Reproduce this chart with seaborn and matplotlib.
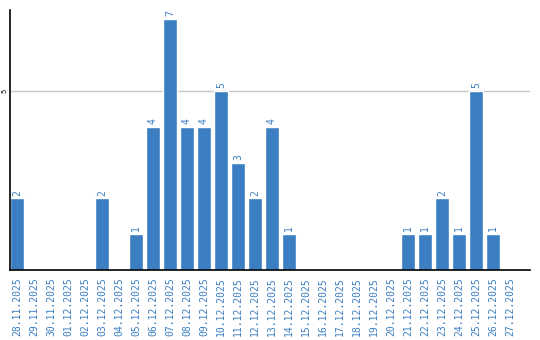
import matplotlib
matplotlib.use("Agg")
import matplotlib.pyplot as plt
import seaborn as sns
import pandas as pd

dates = ["28.11.2025", "29.11.2025", "30.11.2025", "01.12.2025", "02.12.2025",
         "03.12.2025", "04.12.2025", "05.12.2025", "06.12.2025", "07.12.2025",
         "08.12.2025", "09.12.2025", "10.12.2025", "11.12.2025", "12.12.2025",
         "13.12.2025", "14.12.2025", "15.12.2025", "16.12.2025", "17.12.2025",
         "18.12.2025", "19.12.2025", "20.12.2025", "21.12.2025", "22.12.2025",
         "23.12.2025", "24.12.2025", "25.12.2025", "26.12.2025", "27.12.2025"]
counts = [2, 0, 0, 0, 0, 2, 0, 1, 4, 7, 4, 4, 5, 3, 2, 4, 1, 0, 0, 0,
          0, 0, 0, 1, 1, 2, 1, 5, 1, 0]

sns.set_style("white")
plt.rcParams['font.family'] = ['DejaVu Sans Mono', 'DejaVu Sans']

BLUE = "#3b7ec2"
df = pd.DataFrame({"date": dates, "count": counts})

fig = plt.figure(figsize=(5.4, 3.4), dpi=100)
ax = fig.add_axes([10/540, 1 - 270/340, 520/540, 260/340])
sns.barplot(data=df, x="date", y="count", color=BLUE, saturation=1,
            width=14/17, ax=ax, zorder=2)

ax.set_xlim(-0.41, 30.18)
ax.set_ylim(0, 7.26)
ax.set_yticks([5])
ax.set_yticklabels(["5"], rotation=90, va="center", fontsize=5, color="black")
ax.yaxis.grid(True, color="#c8c8c8", linewidth=1, zorder=0)
ax.set_axisbelow(True)
ax.tick_params(axis="y", length=0, pad=1.5)
ax.tick_params(axis="x", length=0, labelrotation=90, labelsize=7,
               labelcolor=BLUE, pad=5)
ax.set_xlabel("")
ax.set_ylabel("")
for side in ["top", "right"]:
    ax.spines[side].set_visible(False)
for side in ["left", "bottom"]:
    ax.spines[side].set_color("black")
    ax.spines[side].set_linewidth(1.2)

for i, v in enumerate(counts):
    if v > 0:
        ax.text(i, v + 0.08, str(v), rotation=90, ha="center", va="bottom",
                color=BLUE, fontsize=7)

fig.savefig("out.png", dpi=100)
